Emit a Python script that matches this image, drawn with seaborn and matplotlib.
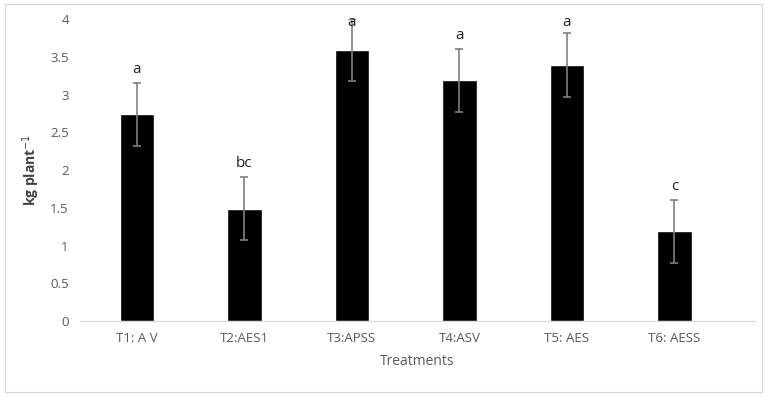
import matplotlib
matplotlib.use("Agg")
import matplotlib.pyplot as plt
import pandas as pd
import seaborn as sns

treatments = ["T1: A V", "T2:AES1", "T3:APSS", "T4:ASV", "T5: AES", "T6: AESS"]
means = [2.74, 1.49, 3.59, 3.19, 3.39, 1.19]
errs = [0.42, 0.42, 0.41, 0.42, 0.42, 0.42]
letters = ["a", "bc", "a", "a", "a", "c"]

df = pd.DataFrame({"Treatment": treatments, "Yield": means})

sns.set_style("white")
plt.rcParams["font.family"] = ["Open Sans", "DejaVu Sans"]

fig = plt.figure(figsize=(7.68, 3.98), dpi=100)
ax = fig.add_axes([0.104, 0.193, 0.879, 0.759])
sns.barplot(data=df, x="Treatment", y="Yield", color="black", width=0.32,
            errorbar=None, ax=ax, saturation=1)
ax.errorbar(range(len(means)), means, yerr=errs, fmt="none", ecolor="#7f7f7f",
            elinewidth=1.2, capsize=3, capthick=1.2)
# letters sit just above the error bar, kept inside the plot area
for i, (m, e, l) in enumerate(zip(means, errs, letters)):
    ax.annotate(l, (i, min(m + e, 3.78)), xytext=(0, 4), textcoords="offset points",
                ha="center", va="bottom", fontsize=11, color="#222222")

ax.set_ylim(0, 4)
ax.set_yticks([0, 0.5, 1, 1.5, 2, 2.5, 3, 3.5, 4])
ax.set_yticklabels(["0", "0.5", "1", "1.5", "2", "2.5", "3", "3.5", "4"])
ax.set_xlim(-0.53, 5.75)
ax.tick_params(axis="both", length=0, labelsize=9.5, labelcolor="#595959", pad=8)
for s in ["top", "right", "left"]:
    ax.spines[s].set_visible(False)
ax.spines["bottom"].set_color("#d9d9d9")
ax.set_xlabel("Treatments", fontsize=10, color="#595959", labelpad=6)
ax.set_ylabel("kg plant$^{-1}$", fontsize=10, fontweight="bold", color="#404040", labelpad=6)

# outer border like the exported chart area
fig.patches.append(plt.Rectangle((0.007, 0.015), 0.985, 0.975, transform=fig.transFigure,
                                 fill=False, edgecolor="#d9d9d9", linewidth=1))

fig.savefig("out.png", dpi=100)
